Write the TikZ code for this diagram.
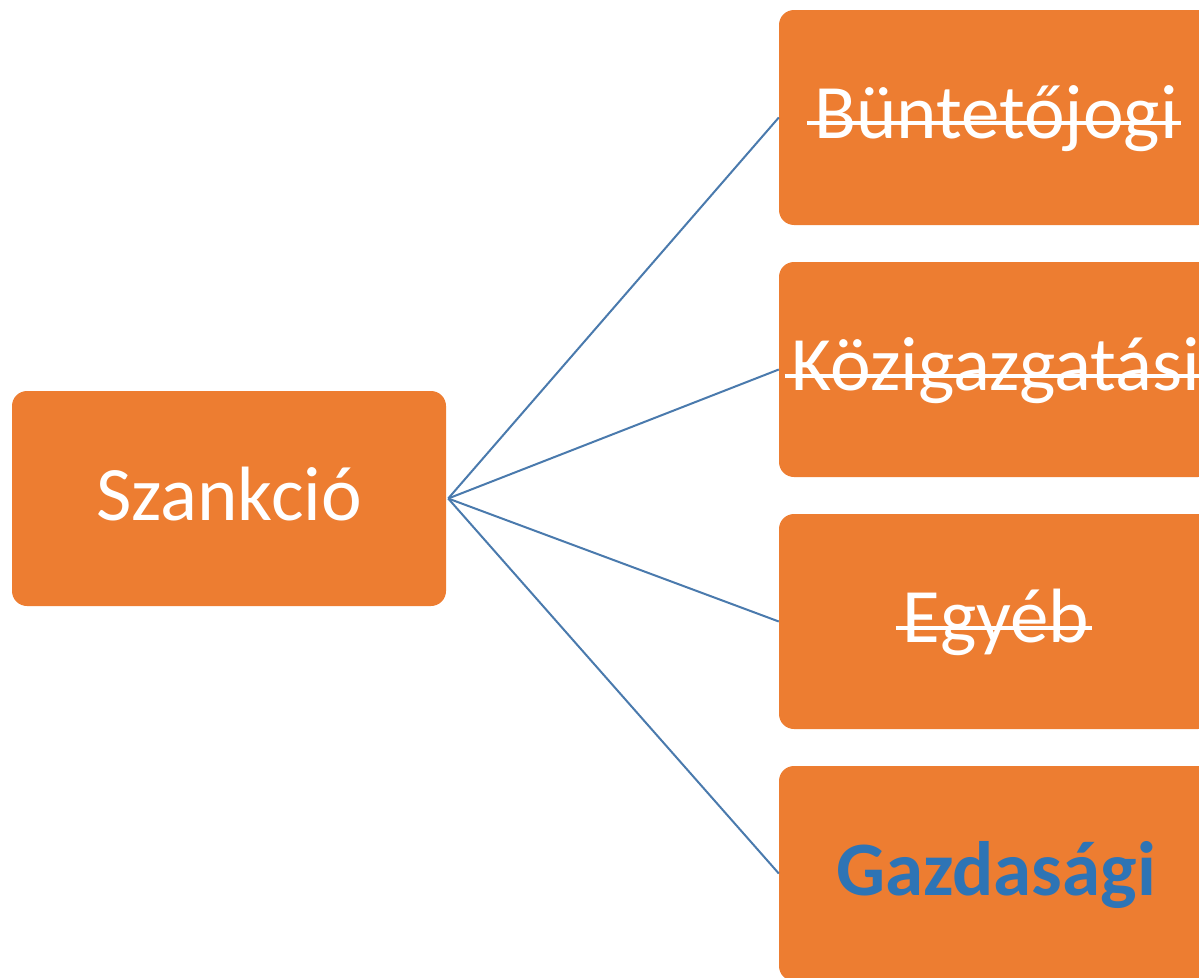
\documentclass[tikz,border=0pt]{standalone}
\usepackage{fontspec}
\setmainfont{Carlito}
\usepackage{xcolor}

\definecolor{boxorange}{HTML}{ED7D31}
\definecolor{linkblue}{HTML}{4A7AAD}
\definecolor{textblue}{HTML}{2E74B5}

\begin{document}
\begin{tikzpicture}[x=1pt, y=-1pt,
	box/.style={fill=boxorange, rounded corners=15pt, minimum width=434pt, minimum height=215pt, inner sep=0pt},
	word/.style={anchor=base, inner sep=0pt, font=\fontsize{77pt}{82pt}\selectfont},
	link/.style={linkblue, line width=2pt},
	strikeline/.style={white, line width=4pt}]
	\useasboundingbox (0, 0) rectangle (1199, 977);
	\clip (0, 0) rectangle (1199, 977);

	% Define the boxes with specific positions
	\node[box] (S) at (229, 498.5) {};
	\node[box] (B) at (996, 117.5) {};
	\node[box] (K) at (996, 369.5) {};
	\node[box] (E) at (996, 621.5) {};
	\node[box] (G) at (996, 873.5) {};

	% Texts inside the boxes
	\node[word, text=white] (Sw) at ([yshift=-21.5pt]S.center) {Szankció};
	\node[word, text=white] (Bw) at ([yshift=-20.5pt]B.center) {Büntetőjogi};
	\node[word, text=white] (Kw) at ([yshift=-21pt]K.center) {Közigazgatási};
	\node[word, text=white] (Ew) at ([yshift=-21pt]E.center) {Egyéb};
	\node[word, text=textblue, font=\fontsize{77pt}{82pt}\selectfont\bfseries] (Gw) at ([yshift=-21.5pt]G.center) {Gazdasági};

	% Strike the crossed out words
	\foreach \w in {Bw, Kw, Ew}
		\draw[strikeline] ([xshift=-7pt, yshift=15pt]\w.base west) -- ([xshift=3pt, yshift=15pt]\w.base east);

	% Draw the links from the root box
	\coordinate (root) at ([xshift=2pt]S.east);
	\foreach \t in {B, K, E, G}
		\draw[link] (root) -- (\t.west);
\end{tikzpicture}
\end{document}
